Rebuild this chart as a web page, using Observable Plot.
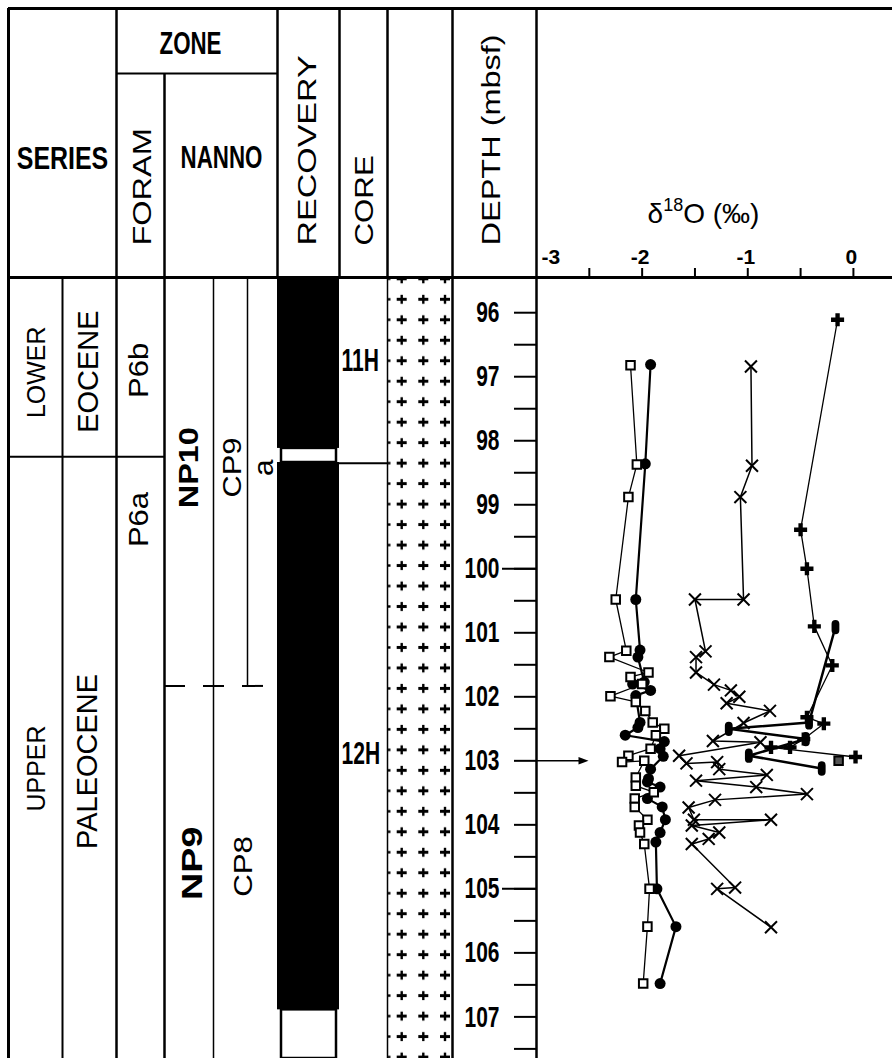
<!DOCTYPE html>
<html><head><meta charset="utf-8">
<script src="https://cdn.jsdelivr.net/npm/d3@7"></script>
<script src="https://cdn.jsdelivr.net/npm/@observablehq/plot@0.6"></script>
<style>
html,body{margin:0;padding:0;background:#fff;}
#fig{position:relative;width:892px;height:1058px;overflow:hidden;background:#fff;}
#fig svg{position:absolute;left:0;top:0;}
</style></head><body><div id="fig"></div>
<script>
// ================= DATA =================
// oxygen isotope series: [depth (mbsf), δ18O (‰)]
const squares = [[96.82,-2.11],[98.37,-2.05],[98.88,-2.13],[100.48,-2.25],[101.28,-2.15],[101.38,-2.31],[101.62,-1.94],[101.69,-2.11],[101.80,-2.00],[101.99,-2.30],[102.08,-2.06],[102.22,-1.97],[102.40,-1.90],[102.50,-1.79],[102.60,-1.87],[102.81,-1.92],[102.92,-2.13],[103.02,-2.19],[103.00,-1.98],[103.26,-2.06],[103.39,-2.06],[103.49,-1.89],[103.59,-2.07],[103.72,-2.07],[103.92,-1.95],[104.01,-2.03],[104.12,-2.02],[104.30,-1.98],[105.00,-1.93],[105.59,-1.95],[106.48,-1.99]];
const circles = [[96.81,-1.92],[98.36,-1.97],[100.48,-2.06],[101.27,-2.02],[101.38,-2.04],[101.77,-1.98],[101.80,-2.09],[101.90,-1.92],[101.98,-2.06],[102.40,-2.02],[102.48,-2.04],[102.60,-2.16],[102.70,-1.79],[102.81,-1.83],[102.93,-1.80],[103.13,-1.92],[103.28,-1.94],[103.33,-1.95],[103.41,-1.83],[103.59,-1.95],[103.72,-1.81],[103.92,-1.78],[104.12,-1.83],[104.27,-1.87],[105.00,-1.86],[105.59,-1.68],[106.48,-1.83]];
const crosses = [[96.84,-0.97],[98.39,-0.96],[98.88,-1.07],[100.48,-1.04],[100.48,-1.50],[101.29,-1.40],[101.38,-1.49],[101.62,-1.49],[101.81,-1.32],[101.90,-1.16],[102.00,-1.08],[102.10,-1.20],[102.22,-0.79],[102.41,-1.04],[102.69,-1.33],[102.71,-0.88],[102.92,-1.65],[103.04,-1.58],[103.02,-1.29],[103.13,-1.27],[103.22,-0.82],[103.31,-1.49],[103.41,-0.92],[103.52,-0.44],[103.61,-1.31],[103.73,-1.56],[103.92,-1.51],[103.92,-0.78],[104.01,-1.53],[104.12,-1.27],[104.22,-1.37],[104.30,-1.53],[104.98,-1.12],[105.00,-1.29],[105.60,-0.78]];
const pluses = [[96.11,-0.15],[99.39,-0.50],[100.00,-0.44],[100.90,-0.37],[101.51,-0.20],[102.32,-0.44],[102.42,-0.28],[102.66,-0.47],[102.79,-0.60],[102.79,-0.78],[102.94,0.02]];
const capsules = [[100.91,-0.17],[102.40,-0.42],[102.50,-1.18],[102.66,-0.45],[102.92,-0.99],[103.12,-0.30]];
const halfSquares = [[103.00,-0.14]];
const arrowDepths = [103];

// axes
const depthLabels = [96,97,98,99,100,101,102,103,104,105,106,107];
const depthTicks = [96,96.5,97,97.5,98,98.5,99,99.5,100,100.5,101,101.5,102,102.5,103,103.5,104,104.5,105,105.5,106,106.5,107,107.5];
const depthLongTicks = [100,105];
const xTickLabels = [-3,-2,-1,0];
const xTicks = [-2.5,-2,-1.5,-1,-0.5,0];

// stratigraphy
const seriesNames = ["LOWER","EOCENE","UPPER","PALEOCENE"];
const seriesNameDepths = [96.93,96.92,103.12,103.01];
const foramNames = ["P6b","P6a"];
const foramNameDepths = [96.9,99.23];
const foramBoundaries = [98.25];
const nannoNames = ["NP10","CP9","a","NP9","CP8"];
const nannoNameDepths = [98.42,98.42,98.42,104.6,104.65];
const nannoBoundaries = [101.83];
const coreNames = ["11H","12H"];
const coreNameDepths = [96.76,102.89];
const coreBoundaries = [98.35];
const recoveredTop = [95.45,98.34];
const recoveredBottom = [98.12,106.89];
const gapTop = [98.12,106.89];
const gapBottom = [98.34,107.65];
const depthDomain = [95.45,107.65];
const d18ODomain = [-3,0.37];

// ================= LAYOUT / STYLE =================
const W = 892, H = 1058;
const FONT = "'Liberation Sans', Arial, Helvetica, sans-serif";
const L = {left:8, sub:62, series:116, foram:164, np:213, cp:247, nanno:277, recovery:339, core:387, lith:452, depth:536, top:8, zoneLine:73, header:277};
const headerLabels = [
  {text:"SERIES", x:62, y:158, size:32, sx:0.78, rotate:0, anchor:"middle", bold:true},
  {text:"ZONE", x:190, y:44, size:31, sx:0.72, rotate:0, anchor:"middle", bold:true},
  {text:"NANNO", x:221, y:158, size:31, sx:0.72, rotate:0, anchor:"middle", bold:true},
  {text:"FORAM", x:142, y:245, size:25, sx:1.3, rotate:-90, anchor:"start"},
  {text:"RECOVERY", x:307, y:245, size:25, sx:1.36, rotate:-90, anchor:"start"},
  {text:"CORE", x:364, y:245, size:25, sx:1.25, rotate:-90, anchor:"start"},
  {text:"DEPTH (mbsf)", x:491, y:245, size:25, sx:1.3, rotate:-90, anchor:"start"}
];
const labelStyle = {
  LOWER:{x:36,size:25,sx:1}, EOCENE:{x:88,size:29,sx:1},
  UPPER:{x:36,size:25,sx:1}, PALEOCENE:{x:87,size:29,sx:1},
  P6b:{x:139,size:27,sx:1.15}, P6a:{x:139,size:27,sx:1.15},
  NP10:{x:189,size:27,sx:1.2,bold:true}, CP9:{x:232,size:25,sx:1.23}, a:{x:264,size:27,sx:1.1},
  NP9:{x:192,size:29,sx:1.3,bold:true}, CP8:{x:243,size:25,sx:1.25}
};
const coreStretch = 0.68, depthStretch = 0.7;
const plotStyle = `background:transparent;overflow:visible;max-width:none;font-family:${FONT};`;

// ================= PLOT A: header grid =================
const hdrV = [
  {x:L.left,y1:L.top,y2:H,w:3},{x:L.series,y1:L.top,y2:L.header,w:2.5},{x:L.foram,y1:L.zoneLine,y2:L.header,w:2.5},
  {x:L.nanno,y1:L.top,y2:L.header,w:2.5},{x:L.recovery,y1:L.top,y2:L.header,w:2.5},{x:L.core,y1:L.top,y2:L.header,w:2.5},
  {x:L.lith,y1:L.top,y2:L.header,w:2.5},{x:L.depth,y1:L.top,y2:L.header,w:2.5}
];
const hdrH = [{y:L.top,x1:L.left,x2:W,w:3},{y:L.header,x1:L.left,x2:W,w:3},{y:L.zoneLine,x1:L.series,x2:L.nanno,w:2}];
const plotA = Plot.plot({
  width:W, height:H, margin:0, style:plotStyle,
  x:{domain:[0,W], range:[0,W], axis:null}, y:{domain:[0,H], range:[0,H], axis:null},
  marks:[
    Plot.ruleX(hdrV,{x:"x",y1:"y1",y2:"y2",strokeWidth:"w",stroke:"black"}),
    Plot.ruleY(hdrH,{y:"y",x1:"x1",x2:"x2",strokeWidth:"w",stroke:"black"}),
    ...headerLabels.map(h => Plot.text([h],{x:"x",y:"y",text:"text",rotate:h.rotate,textAnchor:h.anchor,fontSize:h.size,fontWeight:h.bold?"bold":"normal",fontFamily:FONT,fill:"black"}))
  ]
});

// ================= PLOT B: stratigraphic columns =================
const bodyV = [{x:L.sub,w:2},{x:L.series,w:2.5},{x:L.foram,w:2.5},{x:L.np,w:1.5},{x:L.core,w:1.5},{x:L.lith,w:2.5}];
const recovered = recoveredTop.map((t,i)=>({top:t,bottom:recoveredBottom[i]}));
const gaps = gapTop.map((t,i)=>({top:t,bottom:gapBottom[i]}));
const bodyLabelMarks = [];
function addLabels(names, depths){
  names.forEach((n,i)=>{
    const s = labelStyle[n];
    bodyLabelMarks.push(Plot.text([{name:n,depth:depths[i]}],{x:()=>s.x,y:"depth",text:"name",rotate:-90,textAnchor:"middle",fontSize:s.size,fontWeight:s.bold?"bold":"normal",fontFamily:FONT,fill:"black"}));
  });
}
addLabels(seriesNames, seriesNameDepths);
addLabels(foramNames, foramNameDepths);
addLabels(nannoNames, nannoNameDepths);
const plotB = Plot.plot({
  width:W, height:H, marginTop:L.header, marginLeft:0, marginRight:0, marginBottom:0, style:plotStyle,
  x:{domain:[0,W], range:[0,W], axis:null}, y:{domain:depthDomain, range:[L.header,H], axis:null},
  marks:[
    Plot.rect([0],{x1:L.core,x2:L.lith,fill:"url(#lith)"}),
    Plot.ruleX(bodyV,{x:"x",strokeWidth:"w",stroke:"black"}),
    Plot.ruleX([L.cp],{x:d=>d,y1:depthDomain[0],y2:nannoBoundaries[0],strokeWidth:1.5,stroke:"black"}),
    Plot.ruleY(foramBoundaries,{y:d=>d,x1:L.left,x2:L.foram,strokeWidth:2,stroke:"black"}),
    Plot.ruleY(nannoBoundaries,{y:d=>d,x1:L.foram,x2:263,strokeWidth:2,stroke:"black",strokeDasharray:"21,18"}),
    Plot.rect(recovered,{x1:L.nanno,x2:L.recovery,y1:"top",y2:"bottom",fill:"black"}),
    Plot.rect(gaps,{x1:L.nanno+4,x2:L.recovery-3,y1:"top",y2:"bottom",fill:"white",stroke:"black",strokeWidth:2.5}),
    Plot.ruleY(coreBoundaries,{y:d=>d,x1:L.recovery,x2:L.core,strokeWidth:2,stroke:"black"}),
    Plot.text(coreNames.map((n,i)=>({name:n,depth:coreNameDepths[i]})),{x:()=>L.recovery+2,y:"depth",text:"name",textAnchor:"start",fontSize:31,fontWeight:"bold",fontFamily:FONT,fill:"black"}),
    ...bodyLabelMarks
  ]
});
// lithology pattern
{
  const svg = plotB.tagName.toLowerCase()==="svg" ? plotB : plotB.querySelector("svg");
  const ns = "http://www.w3.org/2000/svg";
  const defs = document.createElementNS(ns,"defs");
  const cx = [14.7,36.3,58.0], cy = 10.24;
  let inner = `<pattern id="lith" patternUnits="userSpaceOnUse" x="${L.core}" y="289.06" width="65" height="20.48">`;
  for (const c of cx) inner += `<rect x="${c-5}" y="${cy-1.5}" width="10" height="3" fill="black"/><rect x="${c-1.2}" y="${cy-4.5}" width="2.4" height="9" fill="black"/>`;
  inner += `<rect x="0" y="${cy-1.2}" width="3.5" height="2.4" fill="black"/></pattern>`;
  defs.innerHTML = inner;
  svg.insertBefore(defs, svg.firstChild);
}

// ================= PLOT C: δ18O =================
const capsule = {draw(ctx,size){const r=Math.sqrt(size/Math.PI);const w=r*0.6,h=r*0.5;ctx.moveTo(w,-h);ctx.arc(0,-h,w,0,Math.PI,true);ctx.lineTo(-w,h);ctx.arc(0,h,w,Math.PI,0,true);ctx.closePath();}};
const arrowHead = {draw(ctx,size){const r=Math.sqrt(size/Math.PI);ctx.moveTo(r,0);ctx.lineTo(-r,-r*0.75);ctx.lineTo(-r,r*0.75);ctx.closePath();}};
const X = d=>d[1], Y = d=>d[0];
const XLABEL = "δ18O (‰)";
const plotC = Plot.plot({
  width:W, height:H, marginTop:L.header, marginLeft:L.depth, marginRight:0, marginBottom:0, style:plotStyle,
  x:{domain:d18ODomain, range:[L.depth,W]}, y:{domain:depthDomain, range:[L.header,H]},
  marks:[
    Plot.axisY(depthTicks,{anchor:"left",tickSize:22,tickFormat:()=>"",strokeWidth:2}),
    Plot.axisY(depthLongTicks,{anchor:"left",tickSize:34,tickFormat:()=>"",strokeWidth:2}),
    Plot.ruleX([d18ODomain[0]],{x:d=>d,strokeWidth:2.5,stroke:"black"}),
    Plot.text(depthLabels,{y:d=>d,text:d=>String(d),frameAnchor:"left",dx:-37,textAnchor:"end",fontSize:30,fontWeight:"bold",fontFamily:FONT,fill:"black"}),
    Plot.axisX(xTicks,{anchor:"top",tickSize:10,tickFormat:()=>"",strokeWidth:2}),
    Plot.text(xTickLabels.filter(v=>v!==d18ODomain[0]),{x:d=>d,text:d=>String(d),frameAnchor:"top",lineAnchor:"bottom",dy:-14,dx:-2,fontSize:21,fontWeight:"bold",fontFamily:FONT,fill:"black"}),
    Plot.text(xTickLabels.filter(v=>v===d18ODomain[0]),{x:d=>d,text:d=>String(d),frameAnchor:"top",lineAnchor:"bottom",dy:-14,dx:5,textAnchor:"start",fontSize:21,fontWeight:"bold",fontFamily:FONT,fill:"black"}),
    Plot.text([XLABEL],{frameAnchor:"top",dx:-11,dy:-55,lineAnchor:"bottom",text:d=>d,fontSize:28,fontFamily:FONT,fill:"black"}),
    Plot.link(arrowDepths,{x1:d18ODomain[0],x2:-2.56,y1:d=>d,y2:d=>d,stroke:"black",strokeWidth:1.5}),
    Plot.dot(arrowDepths,{x:-2.555,y:d=>d,symbol:arrowHead,r:5,fill:"black",stroke:"none"}),
    Plot.line(squares,{x:X,y:Y,stroke:"black",strokeWidth:1.3}),
    Plot.line(circles,{x:X,y:Y,stroke:"black",strokeWidth:2.2}),
    Plot.line(crosses,{x:X,y:Y,stroke:"black",strokeWidth:1.5}),
    Plot.line(pluses,{x:X,y:Y,stroke:"black",strokeWidth:1.3}),
    Plot.line(capsules,{x:X,y:Y,stroke:"black",strokeWidth:2.5}),
    Plot.dot(circles,{x:X,y:Y,r:5.5,fill:"black",stroke:"none"}),
    Plot.dot(squares,{x:X,y:Y,symbol:"square",r:4.8,fill:"white",stroke:"black",strokeWidth:2}),
    Plot.dot(crosses,{x:X,y:Y,symbol:"times",r:5.5,stroke:"black",strokeWidth:2}),
    Plot.dot(pluses,{x:X,y:Y,symbol:"cross",r:5.5,fill:"black",stroke:"none"}),
    Plot.dot(capsules,{x:X,y:Y,symbol:capsule,r:6.5,fill:"black",stroke:"none"}),
    Plot.dot(halfSquares,{x:X,y:Y,symbol:"square",r:4.8,fill:"#555",stroke:"black",strokeWidth:2})
  ]
});

// ================= assemble & text stretching =================
const fig = document.getElementById("fig");
[plotA, plotB, plotC].forEach(p => fig.appendChild(p));
const mapA = Object.fromEntries(headerLabels.map(h=>[h.text,h.sx]));
const mapB = Object.fromEntries([...Object.entries(labelStyle).map(([k,v])=>[k,v.sx]), ...coreNames.map(n=>[n,coreStretch])]);
const mapC = Object.fromEntries(depthLabels.map(d=>[String(d),depthStretch]));
function stretch(svg, map){
  svg.querySelectorAll("text").forEach(t=>{
    if (t.querySelector("tspan")) return;
    const sx = map[t.textContent];
    if (!(sx>0) || sx===1) return;
    const tr = t.getAttribute("transform");
    if (tr) {
      t.setAttribute("transform", `${tr} scale(${sx},1)`);
    } else {
      const x = parseFloat(t.getAttribute("x")) || 0;
      t.setAttribute("transform", `translate(${x},0) scale(${sx},1) translate(${-x},0)`);
    }
  });
}
stretch(plotA, mapA); stretch(plotB, mapB); stretch(plotC, mapC);
plotC.querySelectorAll("text").forEach(t=>{
  if (t.textContent===XLABEL) t.innerHTML = 'δ<tspan dy="-12" font-size="18">18</tspan><tspan dy="12">O (‰)</tspan>';
});
</script></body></html>
